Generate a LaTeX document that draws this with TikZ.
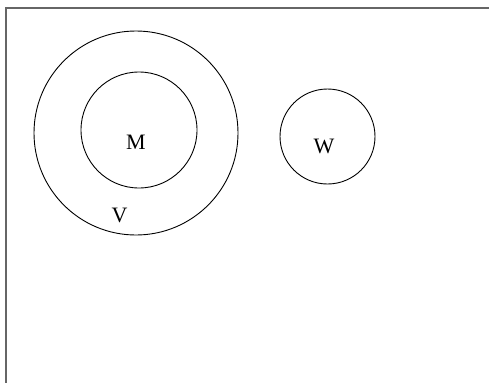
\documentclass[tikz,border=0pt]{standalone}
\usepackage{fontspec}
\setmainfont{Liberation Serif}
\tikzset{
  ring/.style = {draw=black,circle,inner sep=0pt,line width=0.9pt},
  tag/.style = {anchor=base,inner sep=0pt,font=\fontsize{22}{26}\selectfont}
}

\begin{document}
\begin{tikzpicture}[x=1pt,y=-1pt]
  \useasboundingbox (0,0) rectangle (489,383);
  % frame
  \coordinate (corner) at (6,8);
  \draw[line width=1.6pt,black!60] (489,8) -- (corner) -- (6,383);
  % sets
  \node[ring,minimum size=204pt] (outer) at (136,133) {};
  \node[ring,minimum size=116pt] (inner) at (139,130) {};
  \node[ring,minimum size=95pt]  (right) at (327.5,136.5) {};
  % labels
  \node[tag] (m) at (136,149) {M};
  \node[tag] (v) at (119.5,222) {V};
  \node[tag] (w) at (324,153) {W};
\end{tikzpicture}
\end{document}
